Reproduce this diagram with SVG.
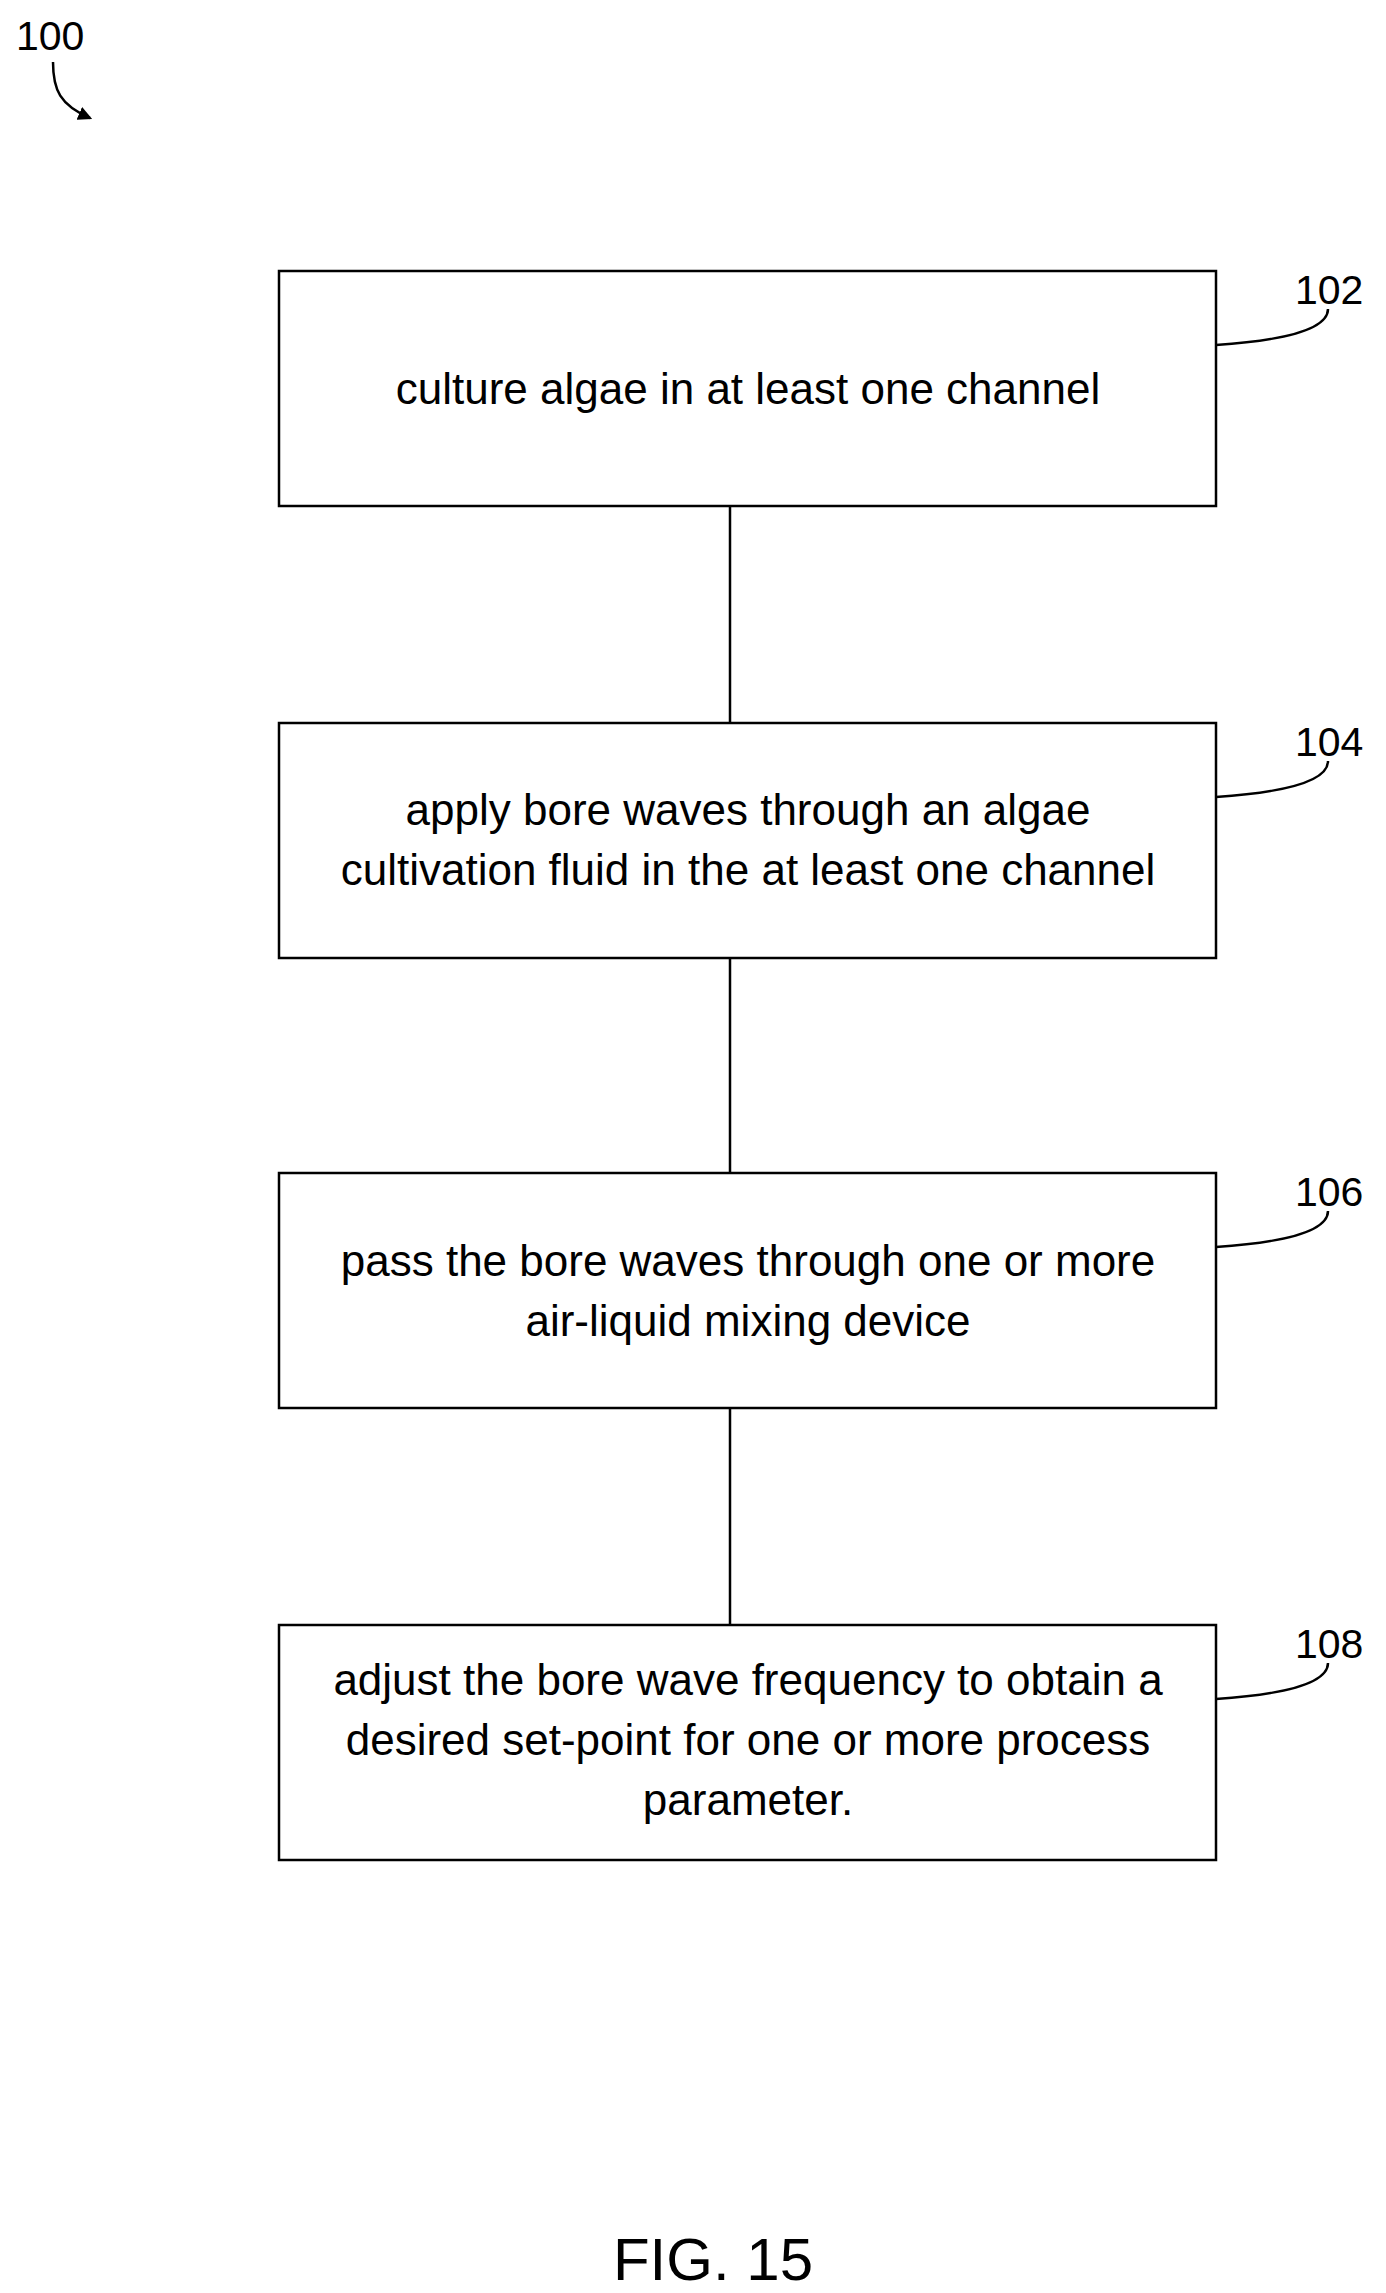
<svg xmlns="http://www.w3.org/2000/svg" width="1386" height="2293" viewBox="0 0 1386 2293">
<style>
.box{fill:#fff;stroke:#000;stroke-width:2.5}
.t{font-family:"Liberation Sans",Arial,sans-serif;font-size:44px;text-anchor:middle;fill:#000}
.lbl{font-family:"Liberation Sans",Arial,sans-serif;font-size:41px;fill:#000}
.ln{fill:none;stroke:#000;stroke-width:2.5}
</style>
<defs><marker id="ah" markerWidth="14" markerHeight="14" refX="10" refY="6" orient="auto" markerUnits="userSpaceOnUse" viewBox="0 0 12 12"><path d="M0,0 L12,6 L0,12 z" fill="#000"/></marker></defs>
<rect width="1386" height="2293" fill="#fff"/>
<g id="connectors">
<line class="ln" x1="730" y1="506" x2="730" y2="723"/>
<line class="ln" x1="730" y1="958" x2="730" y2="1173"/>
<line class="ln" x1="730" y1="1408" x2="730" y2="1625"/>
</g>
<g id="ref100">
<text class="lbl" x="16" y="50">100</text>
<path class="ln" d="M53,62 C53,90 60,105 90,118" marker-end="url(#ah)" stroke-width="2"/>
</g>
<g id="n102">
<rect class="box" x="279" y="271" width="937" height="235"/>
<text class="t" x="748" y="404">culture algae in at least one channel</text>
<text class="lbl" x="1295" y="304">102</text>
<path class="ln" d="M1216,345 C1290,340 1328,328 1328,309"/>
</g>
<g id="n104">
<rect class="box" x="279" y="723" width="937" height="235"/>
<text class="t" x="748" y="825">apply bore waves through an algae</text>
<text class="t" x="748" y="885">cultivation fluid in the at least one channel</text>
<text class="lbl" x="1295" y="756">104</text>
<path class="ln" d="M1216,797 C1290,792 1328,780 1328,761"/>
</g>
<g id="n106">
<rect class="box" x="279" y="1173" width="937" height="235"/>
<text class="t" x="748" y="1276">pass the bore waves through one or more</text>
<text class="t" x="748" y="1336">air-liquid mixing device</text>
<text class="lbl" x="1295" y="1206">106</text>
<path class="ln" d="M1216,1247 C1290,1242 1328,1230 1328,1211"/>
</g>
<g id="n108">
<rect class="box" x="279" y="1625" width="937" height="235"/>
<text class="t" x="748" y="1695">adjust the bore wave frequency to obtain a</text>
<text class="t" x="748" y="1755">desired set-point for one or more process</text>
<text class="t" x="748" y="1815">parameter.</text>
<text class="lbl" x="1295" y="1658">108</text>
<path class="ln" d="M1216,1699 C1290,1694 1328,1682 1328,1663"/>
</g>
<text id="fig" class="lbl" x="713" y="2280" text-anchor="middle" style="font-size:60px">FIG. 15</text>
</svg>
